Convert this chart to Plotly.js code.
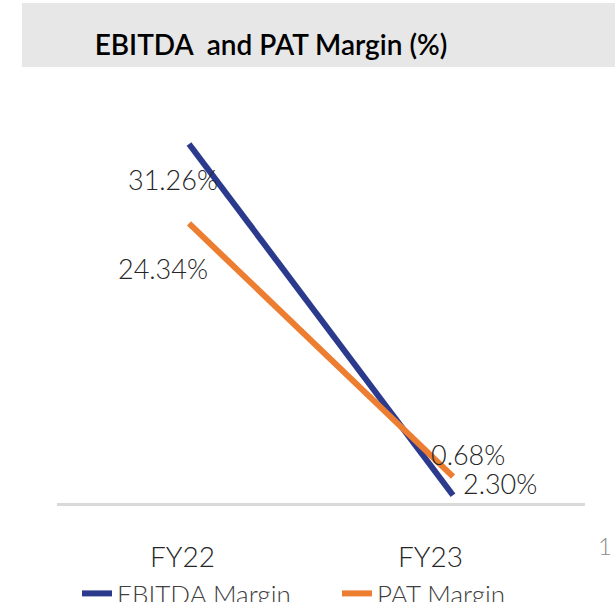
<!DOCTYPE html>
<html>
<head>
<meta charset="utf-8">
<script src="https://cdn.plot.ly/plotly-3.0.1.min.js"></script>
<style>html,body{margin:0;padding:0;background:#fff;}#chart{width:615px;height:602px;}</style>
</head>
<body>
<div id="chart"></div>
<script>
const categories = ["FY22", "FY23"];
const ebitdaMargin = [31.26, 0.68];
const patMargin = [24.34, 2.30];
const ebitdaLabels = ["31.26%", "0.68%"];
const patLabels = ["24.34%", "2.30%"];
const seriesNames = ["EBITDA Margin", "PAT Margin"];

const FONT = "Lato, 'Open Sans', sans-serif";
const txtColor = "#262626";

const traces = [
  {x: categories, y: ebitdaMargin, type: "scatter", mode: "lines", name: seriesNames[0],
   line: {color: "#2B3A8C", width: 6}, hoverinfo: "skip", legend: "legend"},
  {x: categories, y: patMargin, type: "scatter", mode: "lines", name: seriesNames[1],
   line: {color: "#ED7D31", width: 6}, hoverinfo: "skip", legend: "legend2"}
];

const labelShifts = {
  ebitda: [[-16, -36], [15, 41]],
  pat: [[-26, -45], [47, -7]]
};
const annotations = [];
categories.forEach((c, i) => {
  annotations.push({x: c, y: ebitdaMargin[i], text: ebitdaLabels[i], showarrow: false,
    xshift: labelShifts.ebitda[i][0], yshift: labelShifts.ebitda[i][1],
    font: {family: FONT, size: 27, color: txtColor, weight: 300}});
  annotations.push({x: c, y: patMargin[i], text: patLabels[i], showarrow: false,
    xshift: labelShifts.pat[i][0], yshift: labelShifts.pat[i][1],
    font: {family: FONT, size: 27, color: txtColor, weight: 300}});
});
const tickShifts = [-7, -23];
categories.forEach((c, i) => {
  annotations.push({x: c, y: 0, text: c, showarrow: false, yanchor: "middle",
    xshift: tickShifts[i], yshift: -53,
    font: {family: FONT, size: 28, color: txtColor, weight: 300}});
});
annotations.push({xref: "paper", yref: "paper", x: (614 - 57) / 528, y: (503 - 545) / 402,
  text: "1", showarrow: false, xanchor: "right", yanchor: "middle",
  font: {family: FONT, size: 24, color: "#8c8c8c", weight: 300}});

const legendBase = {orientation: "h", xanchor: "left", y: (503 - 570) / 402, yanchor: "top",
  font: {family: FONT, size: 26, color: "#404040", weight: 300}, bgcolor: "rgba(0,0,0,0)"};

const layout = {
  width: 615, height: 602,
  margin: {l: 57, r: 30, t: 101, b: 99, autoexpand: false},
  paper_bgcolor: "#ffffff", plot_bgcolor: "#ffffff",
  title: {text: "EBITDA  and PAT Margin (%)", xref: "container", yref: "container",
    x: 271 / 615, xanchor: "center", y: 1 - 45 / 602, yanchor: "middle",
    font: {family: FONT, size: 28, color: "#000000", weight: 600}},
  xaxis: {type: "category", range: [-0.5, 1.5], showgrid: false, zeroline: false,
    showline: true, linecolor: "#d9d9d9", linewidth: 3, showticklabels: false, ticks: "",
    fixedrange: true},
  yaxis: {range: [0, 35], visible: false, showgrid: false, zeroline: false, fixedrange: true},
  showlegend: true,
  legend: Object.assign({}, legendBase, {x: (77 - 57) / 528}),
  legend2: Object.assign({}, legendBase, {x: (337 - 57) / 528}),
  shapes: [{type: "rect", xref: "paper", yref: "paper",
    x0: (22 - 57) / 528, x1: (620 - 57) / 528, y0: (503 - 67) / 402, y1: (503 - 3) / 402,
    fillcolor: "#e7e7e7", line: {width: 0}, layer: "below"}],
  annotations: annotations
};

Plotly.newPlot("chart", traces, layout, {displayModeBar: false, staticPlot: true});
</script>
</body>
</html>
